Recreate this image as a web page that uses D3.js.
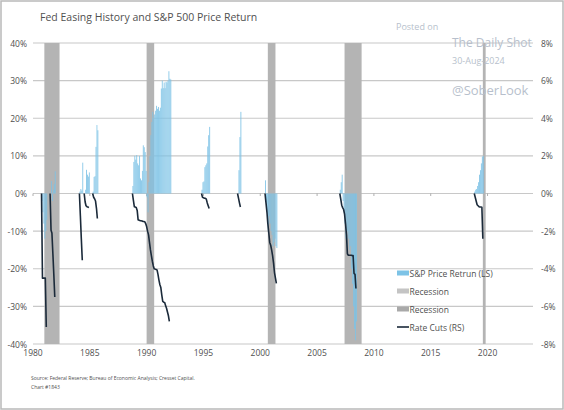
<head>
    <meta charset="utf-8">
    <style>
        body { margin: 0; background: #ffffff; }
        text { font-family: "Open Sans", sans-serif; }
    </style>
    <script src="https://cdn.jsdelivr.net/npm/d3@7"></script>
</head>
<body>
<div id="chart"></div>
<script>

    // easing cycles: first month of each cycle
    var cycleStart = ["1981-04", "1982-01", "1984-08", "1985-01", "1985-10", "1989-04",
                      "1995-05", "1998-07", "2000-12", "2007-07", "2019-05"];

    // cumulative fed funds cuts, pp (right scale), one value per month
    var rateCuts = [
        [0, -4.5, -4.5, -4.5, -4.5, -7.1],
        [0, -1.96, -2.1, -3.2, -4.3, -5.5],
        [0, -1.2, -2.4, -3.55],
        [0, -0.45, -0.65, -0.7, -0.72, -0.75],
        [0, -0.2, -0.28, -0.4, -0.8, -1.33],
        [0, -0.35, -0.7, -0.72, -0.74, -0.9, -1.4, -1.42, -1.44, -1.45, -1.46, -1.48, -1.49, -1.5,
         -1.6, -1.76, -2.0, -2.2, -2.6, -3.0, -3.3, -3.6, -3.85, -4.0, -4.02, -4.04, -4.06, -4.3,
         -4.6, -4.85, -5.0, -5.4, -5.74, -5.78, -5.8, -5.95, -6.1, -6.3, -6.5, -6.8],
        [0, -0.2, -0.22, -0.25, -0.25, -0.3, -0.5, -0.65, -0.8],
        [0, -0.25, -0.5, -0.72],
        [0, -0.5, -1.0, -1.6, -2.1, -2.6, -2.75, -3.0, -3.3, -3.7, -4.2, -4.5, -4.78],
        [0, -0.3, -0.62, -0.75, -0.85, -1.1, -1.6, -2.2, -3.2, -3.28, -3.28, -3.28, -3.28, -3.3,
         -3.3, -4.25, -4.3, -5.05],
        [0, -0.2, -0.4, -0.6, -0.65, -0.7, -0.72, -0.72, -0.73, -2.4]
    ];

    // S&P 500 price return since first cut, % (left scale)
    var spxReturn = [
        [-2, -5, -8, -12, -10, -7],
        [0, 3.3, -2, 1, 2.5, 5.9],
        [0.5, 1.2, 0.8, 8.2],
        [0, 1, 6.3, 5, 4.5, 5.6],
        [0.5, 4.4, 4.6, 12.4, 18.2, 16.8],
        [2, 8.4, 10, 9, 10.2, 8, 7.5, 10, 4, 3.5, 6, 12.8, 12.3, 11, 6, -1, -5, 3, 10, 15.5, 19,
         21.7, 20, 21, 22, 23.3, 22.5, 23, 22, 22.8, 27.9, 30, 28, 29.5, 28, 29.7, 29.5, 30, 32.5,
         30.5, 30.3],
        [1, 3, 3.2, 7, 7.5, 8, 12.5, 15.5, 17.7],
        [0, 6.2, 15, 21.7],
        [3.5, -4, -8, -10, -6, -8, -10, -11, -14, -13, -12, -14, -14.5],
        [1, 3, 5, -2, -5, -8, -12, -14, -10, -12, -15, -14, -20, -24, -30, -36, -39, -34],
        [0.5, 1, 1.2, 2, 3, 5, 6.2, 8, 9.8, 10]
    ];

    var recessions = [["1981-07", "1982-11"], ["1990-07", "1991-03"], ["2001-03", "2001-11"],
                      ["2007-12", "2009-06"], ["2020-02", "2020-05"]];

    var leftTicks = [40, 30, 20, 10, 0, -10, -20, -30, -40];
    var rightTicks = [8, 6, 4, 2, 0, -2, -4, -6, -8];
    var yearTicks = [1980, 1985, 1990, 1995, 2000, 2005, 2010, 2015, 2020];

    var W = 564, H = 410;
    var margin = {top: 43, bottom: 66, left: 33, right: 31};
    var width = W - margin.left - margin.right,
        height = H - margin.top - margin.bottom;

    var parseMonth = d3.timeParse("%Y-%m");

    var svg = d3.select("#chart").append("svg")
        .attr("width", W)
        .attr("height", H);

    svg.append("rect")
        .attr("x", 1).attr("y", 1)
        .attr("width", W - 2).attr("height", H - 2)
        .attr("fill", "#ffffff")
        .attr("stroke", "#b9b9b9")
        .attr("stroke-width", 1.5);

    svg.append("text")
        .attr("x", 40).attr("y", 21)
        .attr("fill", "#505050")
        .style("font-size", "10.5px")
        .text("Fed Easing History and S&P 500 Price Return");

    var focus = svg.append("g")
        .attr("transform", "translate(" + margin.left + "," + margin.top + ")");

    var x = d3.scaleTime()
        .domain([new Date(1980, 6, 1), new Date(2024, 6, 1)])
        .range([0, width]);

    var y = d3.scaleLinear().domain([-40, 40]).range([height, 0]);
    var y2 = d3.scaleLinear().domain([-8, 8]).range([height, 0]);

    // gridlines
    focus.append("g")
        .selectAll("line")
        .data(leftTicks)
        .enter()
        .append("line")
        .attr("x1", 0).attr("x2", width)
        .attr("y1", d => y(d)).attr("y2", d => y(d))
        .attr("stroke", "#c8c8c8")
        .attr("stroke-width", 1.2);

    // small year ticks on the zero line
    focus.append("g")
        .selectAll("line")
        .data(yearTicks)
        .enter()
        .append("line")
        .attr("x1", d => x(new Date(d, 6, 1))).attr("x2", d => x(new Date(d, 6, 1)))
        .attr("y1", y(0)).attr("y2", y(0) + 2.5)
        .attr("stroke", "#9a9a9a")
        .attr("stroke-width", 0.8);

    // recessions
    focus.append("g")
        .selectAll("rect")
        .data(recessions)
        .enter()
        .append("rect")
        .attr("x", d => x(parseMonth(d[0])))
        .attr("width", d => x(parseMonth(d[1])) - x(parseMonth(d[0])))
        .attr("y", 0)
        .attr("height", height)
        .attr("fill", "#b4b4b4");

    // monthly bars and lines
    var bars = focus.append("g");
    var lines = focus.append("g");

    cycleStart.forEach(function(s, i) {

        var t0 = parseMonth(s);

        var spx = spxReturn[i].map(function(v, m) {
            return {date: d3.timeMonth.offset(t0, m), value: v};
        });
        var cuts = rateCuts[i].map(function(v, m) {
            return {date: d3.timeMonth.offset(t0, m), value: v};
        });

        bars.selectAll(null)
            .data(spx)
            .enter()
            .append("rect")
            .attr("x", d => x(d.date))
            .attr("width", d => x(d3.timeMonth.offset(d.date, 1)) - x(d.date))
            .attr("y", d => y(Math.max(0, d.value)))
            .attr("height", d => Math.abs(y(d.value) - y(0)))
            .attr("fill", "#7dc3e6")
            .attr("fill-opacity", 0.88);

        lines.append("path")
            .datum(cuts)
            .attr("fill", "none")
            .attr("stroke", "#1b2a3a")
            .attr("stroke-width", 1.6)
            .attr("stroke-linejoin", "round")
            .attr("d", d3.line()
                .x(d => x(d.date))
                .y(d => y2(d.value)));
    });

    // axes labels
    focus.append("g")
        .selectAll("text")
        .data(leftTicks)
        .enter()
        .append("text")
        .attr("x", -6).attr("y", d => y(d))
        .attr("text-anchor", "end")
        .attr("dominant-baseline", "central")
        .attr("fill", "#505050")
        .style("font-size", "8.5px")
        .text(d => d + "%");

    focus.append("g")
        .selectAll("text")
        .data(rightTicks)
        .enter()
        .append("text")
        .attr("x", width + 8).attr("y", d => y2(d))
        .attr("text-anchor", "start")
        .attr("dominant-baseline", "central")
        .attr("fill", "#505050")
        .style("font-size", "8.5px")
        .text(d => d + "%");

    focus.append("g")
        .selectAll("text")
        .data(yearTicks)
        .enter()
        .append("text")
        .attr("x", d => x(new Date(d, 6, 1)))
        .attr("y", height + 12)
        .attr("text-anchor", "middle")
        .attr("fill", "#505050")
        .style("font-size", "8.5px")
        .text(d => d);

    // legend
    var legend = svg.append("g").attr("transform", "translate(397,273)");
    var legendItems = [
        {label: "S&P Price Retrun (LS)", type: "bar", col: "#7dc3e6"},
        {label: "Recession", type: "bar", col: "#c4c4c4"},
        {label: "Recession", type: "bar", col: "#a9a9a9"},
        {label: "Rate Cuts (RS)", type: "line", col: "#1b2a3a"}
    ];
    legendItems.forEach(function(d, i) {
        var g = legend.append("g").attr("transform", "translate(0," + (i * 18) + ")");
        if (d.type == "bar") {
            g.append("rect").attr("x", 0).attr("y", -2.5).attr("width", 12).attr("height", 5).attr("fill", d.col);
        } else {
            g.append("line").attr("x1", 0).attr("x2", 12).attr("y1", 0).attr("y2", 0)
                .attr("stroke", d.col).attr("stroke-width", 1.6);
        }
        g.append("text")
            .attr("x", 12.5).attr("y", 0)
            .attr("dominant-baseline", "central")
            .attr("fill", "#505050")
            .style("font-size", "8.5px")
            .text(d.label);
    });

    // watermark
    var wm = svg.append("g").attr("fill", "#b7bfcc").style("font-family", "'Liberation Sans', Arial, sans-serif");
    wm.append("text").attr("x", 396).attr("y", 30).style("font-size", "9px").text("Posted on");
    wm.append("text").attr("x", 452).attr("y", 47).style("font-size", "12px").text("The Daily Shot");
    wm.append("text").attr("x", 452).attr("y", 64).style("font-size", "9px").text("30-Aug-2024");
    wm.append("text").attr("x", 452).attr("y", 95).style("font-size", "13px").text("@SoberLook");

    // source
    svg.append("text")
        .attr("x", 31).attr("y", 380)
        .attr("fill", "#505050")
        .style("font-size", "5px")
        .text("Source: Federal Reserve; Bureau of Economic Analysis; Cresset Capital.");
    svg.append("text")
        .attr("x", 31).attr("y", 389)
        .attr("fill", "#505050")
        .style("font-size", "5px")
        .text("Chart #1843");

</script>
</body>
